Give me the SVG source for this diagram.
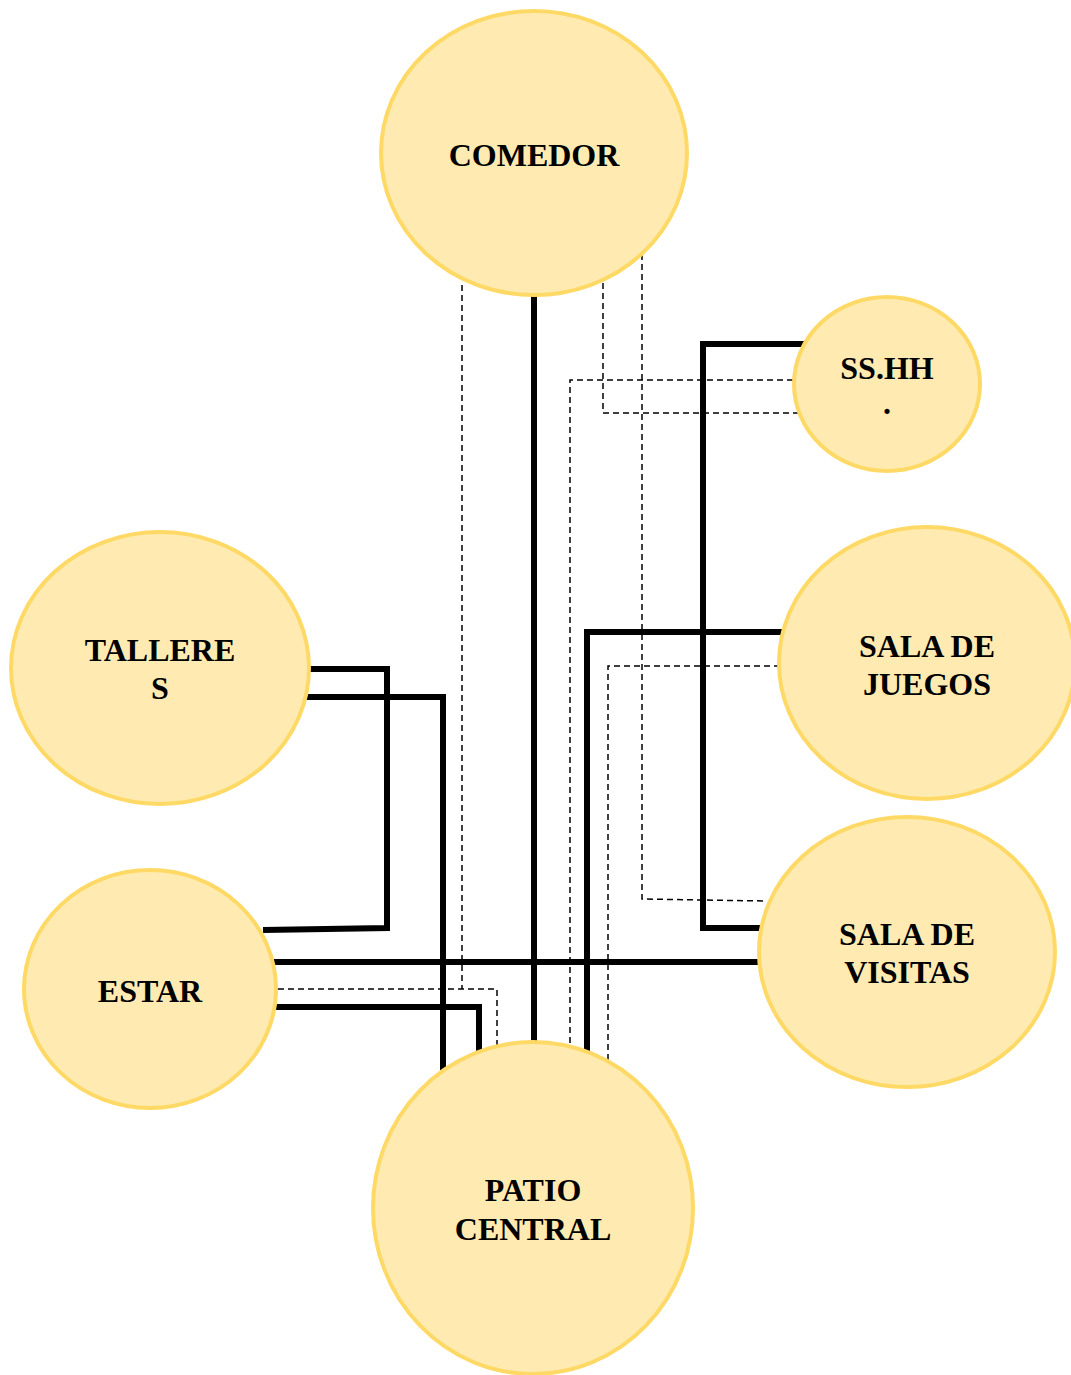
<svg xmlns="http://www.w3.org/2000/svg" width="1071" height="1375" viewBox="0 0 1071 1375">
  <style>
    .bg { fill: #ffffff; }
    .room { fill: #FFEBB1; stroke: #FFD966; stroke-width: 4; }
    .link { fill: none; stroke: #000000; stroke-width: 6; stroke-linejoin: miter; }
    .weak { fill: none; stroke: #000000; stroke-width: 1.5; stroke-dasharray: 6 4; }
    .label { font-family: "Liberation Serif", "Times New Roman", serif; font-weight: bold; font-size: 32px; fill: #000000; text-anchor: middle; }
  </style>
  <rect class="bg" x="0" y="0" width="1071" height="1375"/>

  <!-- connectors: solid = direct relation, dashed = indirect relation -->
  <g id="connectors">
    <path class="weak" d="M462,285 V989"/>
    <path class="weak" d="M278,989 H497 V1045"/>
    <path class="weak" d="M603,283 V413 H798"/>
    <path class="weak" d="M642,254 V899 L765,901"/>
    <path class="weak" d="M793,380 H570 V1045"/>
    <path class="weak" d="M780,666 H608 V1064"/>

    <path class="link" d="M534,295 V1044"/>
    <path class="link" d="M806,344 H703 V928 H763"/>
    <path class="link" d="M306,669 H387 V928 L263,930"/>
    <path class="link" d="M306,697 H443 V1070"/>
    <path class="link" d="M274,962 H763"/>
    <path class="link" d="M276,1007 H479 V1055"/>
    <path class="link" d="M782,632 H587 V1056"/>
  </g>

  <g id="comedor">
    <ellipse class="room" cx="534" cy="153" rx="153" ry="142"/>
    <text class="label" x="534" y="166">COMEDOR</text>
  </g>
  <g id="sshh">
    <ellipse class="room" cx="887" cy="384" rx="93" ry="87"/>
    <text class="label" x="887" y="379">SS.HH</text>
    <text class="label" x="887" y="414">.</text>
  </g>
  <g id="talleres">
    <ellipse class="room" cx="160" cy="668" rx="149" ry="136"/>
    <text class="label" x="160" y="661">TALLERE</text>
    <text class="label" x="160" y="699">S</text>
  </g>
  <g id="sala-juegos">
    <ellipse class="room" cx="927" cy="663" rx="148" ry="136"/>
    <text class="label" x="927" y="657">SALA DE</text>
    <text class="label" x="927" y="695">JUEGOS</text>
  </g>
  <g id="sala-visitas">
    <ellipse class="room" cx="907" cy="952" rx="148" ry="135"/>
    <text class="label" x="907" y="945">SALA DE</text>
    <text class="label" x="907" y="983">VISITAS</text>
  </g>
  <g id="estar">
    <ellipse class="room" cx="150" cy="989" rx="126" ry="119"/>
    <text class="label" x="150" y="1002">ESTAR</text>
  </g>
  <g id="patio-central">
    <ellipse class="room" cx="533" cy="1208" rx="160" ry="166"/>
    <text class="label" x="533" y="1201">PATIO</text>
    <text class="label" x="533" y="1240">CENTRAL</text>
  </g>
</svg>
